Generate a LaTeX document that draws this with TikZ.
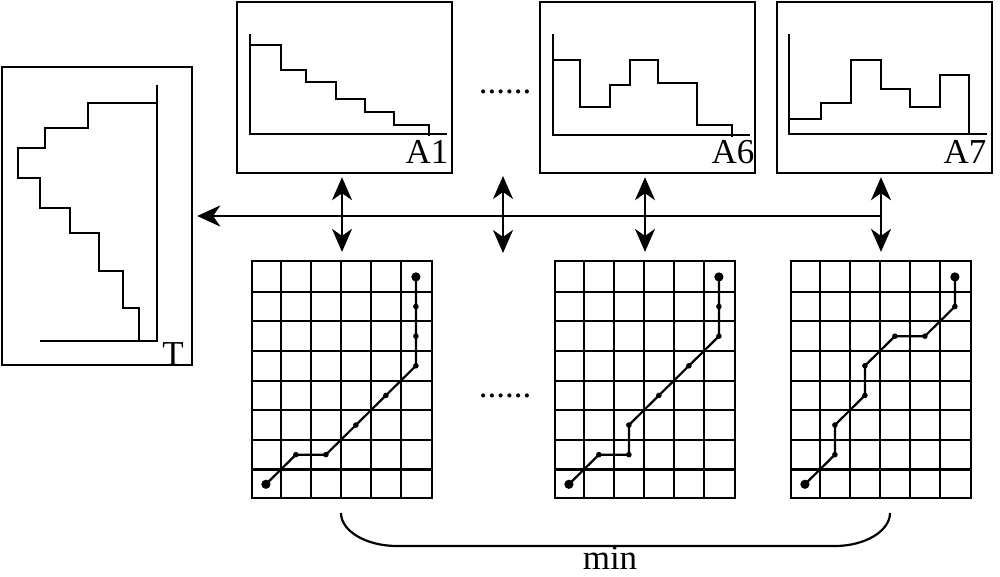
\documentclass[tikz,border=0pt]{standalone}
\usepackage{fontspec}
\setmainfont{Liberation Serif}
\usetikzlibrary{arrows.meta}
\begin{document}
\begin{tikzpicture}[x=1pt,y=-1pt,
  box/.style={draw,line width=2.4pt,inner sep=0pt},
  panel/.style={box,minimum width=215pt,minimum height=171pt},
  gridbox/.style={draw,line width=2.2pt,minimum width=180pt,minimum height=237pt,inner sep=0pt},
  gline/.style={line width=2.2pt},
  chart/.style={line width=2.4pt},
  walkline/.style={line width=2.2pt},
  lbl/.style={font=\fontsize{35}{35}\selectfont,inner sep=0pt},
  dbl/.style={line width=2.2pt,{Stealth[length=23pt,width=20pt,inset=7pt]}-{Stealth[length=23pt,width=20pt,inset=7pt]},shorten <=3pt,shorten >=8pt},
  harrow/.style={line width=2.2pt,-{Stealth[length=23pt,width=21pt,inset=7pt]},shorten >=4pt},
  bigdot/.style={radius=4.6pt},
  smalldot/.style={radius=2.8pt},
  brace/.style={line width=2.2pt}
]
\useasboundingbox (0,0) rectangle (1000,577);

% boxes
\node[box,minimum width=190pt,minimum height=298pt] (T) at (97,216) {};
\node[panel] (A1) at (344.5,87.5) {};
\node[panel] (A6) at (647.5,87.5) {};
\node[panel] (A7) at (884.5,87.5) {};

% labels
\node[lbl] (lT) at (173,354) {T};
\node[lbl] (lA1) at (427,152) {A1};
\node[lbl] (lA6) at (733,152) {A6};
\node[lbl] (lA7) at (965,152) {A7};
\node[lbl] (dtop) at (505,92) {......};
\node[lbl] (dbot) at (505,396) {......};
\node[lbl] (min) at (610,558) {min};

% charts
\draw[chart] (157,85) -- (157,341) -- (40,341);
\draw[chart] (157,103) -- (88,103) -- (88,128) -- (45,128) -- (45,148) -- (18,148) -- (18,178) -- (40,178) -- (40,208) -- (70,208) -- (70,233) -- (99,233) -- (99,271) -- (123,271) -- (123,308) -- (139,308) -- (139,341);

\draw[chart] (250,34) -- (250,134) -- (447,134);
\draw[chart] (250,45) -- (281,45) -- (281,70) -- (306,70) -- (306,82) -- (336,82) -- (336,99) -- (365,99) -- (365,112) -- (394,112) -- (394,125) -- (429,125) -- (429,136);

\draw[chart] (553,34) -- (553,135) -- (750,135);
\draw[chart] (553,60) -- (580,60) -- (580,107) -- (610,107) -- (610,85) -- (630,85) -- (630,60) -- (658,60) -- (658,83) -- (697,83) -- (697,125) -- (732,125) -- (732,137);

\draw[chart] (789,34) -- (789,134) -- (987,134);
\draw[chart] (789,119) -- (821,119) -- (821,103) -- (851,103) -- (851,60) -- (881,60) -- (881,89) -- (910,89) -- (910,107) -- (940,107) -- (940,75) -- (969,75) -- (969,134);

% grids
\node[gridbox] (g1) at (342,379.5) {};
\node[gridbox] (g2) at (645,379.5) {};
\node[gridbox] (g3) at (881,379.5) {};
\foreach \g in {g1,g2,g3}{
  \begin{scope}[shift={(\g.south west)},x=30pt,y=29.625pt]
    \foreach \i in {1,...,5} \draw[gline] (\i,0) -- (\i,8);
    \foreach \j in {1,...,7} \draw[gline] (0,\j) -- (6,\j);
  \end{scope}
}

% walks
\begin{scope}[shift={(g1.south west)},x=30pt,y=29.625pt,shift={(0.5,0.5)}]
  \draw[walkline] (0,0) -- (1,1) -- (2,1) -- (3,2) -- (4,3) -- (5,4) -- (5,5) -- (5,6) -- (5,7);
  \foreach \p in {(1,1),(2,1),(3,2),(4,3),(5,4),(5,5),(5,6)} \fill \p circle[smalldot];
  \fill (0,0) circle[bigdot] (5,7) circle[bigdot];
\end{scope}
\begin{scope}[shift={(g2.south west)},x=30pt,y=29.625pt,shift={(0.5,0.5)}]
  \draw[walkline] (0,0) -- (1,1) -- (2,1) -- (2,2) -- (3,3) -- (4,4) -- (5,5) -- (5,6) -- (5,7);
  \foreach \p in {(1,1),(2,1),(2,2),(3,3),(4,4),(5,5),(5,6)} \fill \p circle[smalldot];
  \fill (0,0) circle[bigdot] (5,7) circle[bigdot];
\end{scope}
\begin{scope}[shift={(g3.south west)},x=30pt,y=29.625pt,shift={(0.5,0.5)}]
  \draw[walkline] (0,0) -- (1,1) -- (1,2) -- (2,3) -- (2,4) -- (3,5) -- (4,5) -- (5,6) -- (5,7);
  \foreach \p in {(1,1),(1,2),(2,3),(2,4),(3,5),(4,5),(5,6)} \fill \p circle[smalldot];
  \fill (0,0) circle[bigdot] (5,7) circle[bigdot];
\end{scope}

% arrows
\coordinate (mt) at (503,173);
\coordinate (mb) at (503,261);
\draw[dbl] (A1.south -| g1.north) -- (g1.north);
\draw[dbl] (mt) -- (mb);
\draw[dbl] (A6.south -| g2.north) -- (g2.north);
\draw[dbl] (A7.south -| g3.north) -- (g3.north);
\coordinate (h) at (g3.north |- T.east);
\draw[harrow] (h) -- (T.east);

% brace
\draw[brace] (341,513) .. controls (341,531) and (366,546) .. (397,546) -- (835,546) .. controls (865,546) and (890,531) .. (890,513);
\end{tikzpicture}
\end{document}
